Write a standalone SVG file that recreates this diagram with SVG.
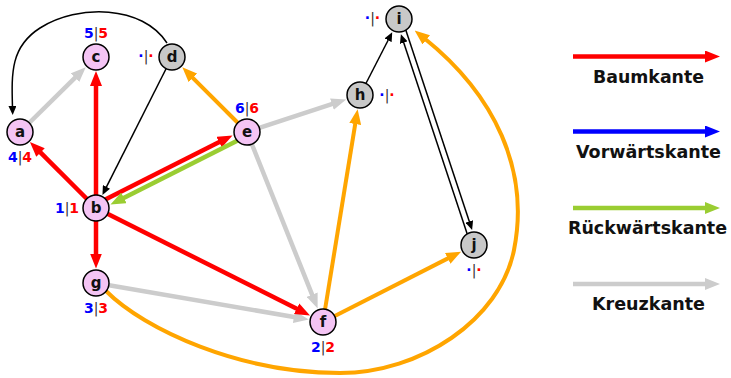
<svg xmlns="http://www.w3.org/2000/svg" width="731" height="378" viewBox="0 0 731 378">
<style>
.n{stroke:#000;stroke-width:1.5}
.p{fill:#f4c4f4}
.q{fill:#c8c8c8}
.nl{font-family:"DejaVu Sans",sans-serif;font-weight:bold;font-size:15px;text-anchor:middle;fill:#111}
.lb{font-family:"DejaVu Sans",sans-serif;font-weight:bold;font-size:14px;text-anchor:middle}
.bl{fill:#0000ff}.rd{fill:#ff0000}.br{fill:#333;font-weight:normal}
.e{fill:none}
.red{stroke:#ff0000;stroke-width:4.5}
.gr{stroke:#cccccc;stroke-width:4.5}
.or{stroke:#ffa500;stroke-width:4}
.gn{stroke:#9acd32;stroke-width:4.5}
.bk{stroke:#000;stroke-width:1.5}
.bu{stroke:#0000ff;stroke-width:4.5}
.lt{font-family:"DejaVu Sans",sans-serif;font-weight:bold;font-size:17px;text-anchor:middle;fill:#111}
</style>
<defs>
<marker id="mr" viewBox="0 0 15 12" markerWidth="15" markerHeight="12" refX="3" refY="6" orient="auto" markerUnits="userSpaceOnUse"><path d="M0,0 L15,6 L0,12 z" fill="#ff0000"/></marker>
<marker id="mg" viewBox="0 0 15 12" markerWidth="15" markerHeight="12" refX="3" refY="6" orient="auto" markerUnits="userSpaceOnUse"><path d="M0,0 L15,6 L0,12 z" fill="#cccccc"/></marker>
<marker id="mo" viewBox="0 0 15 12" markerWidth="15" markerHeight="12" refX="3" refY="6" orient="auto" markerUnits="userSpaceOnUse"><path d="M0,0 L15,6 L0,12 z" fill="#ffa500"/></marker>
<marker id="mn" viewBox="0 0 15 12" markerWidth="15" markerHeight="12" refX="3" refY="6" orient="auto" markerUnits="userSpaceOnUse"><path d="M0,0 L15,6 L0,12 z" fill="#9acd32"/></marker>
<marker id="mb" viewBox="0 0 15 12" markerWidth="15" markerHeight="12" refX="3" refY="6" orient="auto" markerUnits="userSpaceOnUse"><path d="M0,0 L15,6 L0,12 z" fill="#0000ff"/></marker>
<marker id="mk" viewBox="0 0 9 8" markerWidth="9" markerHeight="8" refX="2" refY="4" orient="auto" markerUnits="userSpaceOnUse"><path d="M0,0 L9,4 L0,8 z" fill="#000"/></marker>
</defs>
<rect width="731" height="378" fill="#fff"/>
<g id="connectors">
<path class="e or" d="M 106 291 C 145 330, 240 373, 340 373 C 420 373, 500 320, 514 250 C 530 170, 495 95, 424 38" marker-end="url(#mo)"/>
<path class="e bk" d="M 167 43 C 142.8 5, 77.9 3.8, 40 28 C 10.5 46.8, 11.5 73, 12.5 108" marker-end="url(#mk)"/>
<line class="e gr" x1="20" y1="132" x2="77.2" y2="75.6" marker-end="url(#mg)"/>
<line class="e gr" x1="247" y1="132" x2="334.8" y2="103.2" marker-end="url(#mg)"/>
<line class="e gr" x1="247" y1="132" x2="313.2" y2="297.4" marker-end="url(#mg)"/>
<line class="e gr" x1="96" y1="283" x2="296.9" y2="317.5" marker-end="url(#mg)"/>
<line class="e red" x1="96" y1="208" x2="38.4" y2="150.4" marker-end="url(#mr)"/>
<line class="e red" x1="96" y1="208" x2="96" y2="83" marker-end="url(#mr)"/>
<line class="e red" x1="94.4" y1="204.9" x2="221.8" y2="140.8" marker-end="url(#mr)"/>
<line class="e gn" x1="248.6" y1="135.1" x2="121.2" y2="199.2" marker-end="url(#mn)"/>
<line class="e red" x1="96" y1="208" x2="96" y2="256.5" marker-end="url(#mr)"/>
<line class="e red" x1="96" y1="208" x2="299.3" y2="310.1" marker-end="url(#mr)"/>
<line class="e bk" x1="172" y1="57" x2="105.6" y2="188.7" marker-end="url(#mk)"/>
<line class="e or" x1="247" y1="132" x2="190.8" y2="75.8" marker-end="url(#mo)"/>
<line class="e or" x1="323" y1="322" x2="355.7" y2="121.1" marker-end="url(#mo)"/>
<line class="e or" x1="323" y1="322" x2="450.4" y2="257.1" marker-end="url(#mo)"/>
<line class="e bk" x1="360" y1="95" x2="389.0" y2="38.5" marker-end="url(#mk)"/>
<line class="e bk" x1="401.8" y1="18.1" x2="469.9" y2="223.3" marker-end="url(#mk)"/>
<line class="e bk" x1="471.2" y1="246" x2="403.1" y2="40.8" marker-end="url(#mk)"/>
</g>
<g id="node-a"><circle class="n p" cx="20" cy="132" r="13"/><text class="nl" x="20" y="137">a</text><text class="lb" x="20" y="162"><tspan class="bl">4</tspan><tspan class="br">|</tspan><tspan class="rd">4</tspan></text></g>
<g id="node-b"><circle class="n p" cx="96" cy="208" r="13"/><text class="nl" x="96" y="213">b</text><text class="lb" x="67" y="213"><tspan class="bl">1</tspan><tspan class="br">|</tspan><tspan class="rd">1</tspan></text></g>
<g id="node-c"><circle class="n p" cx="96" cy="57" r="13"/><text class="nl" x="96" y="62">c</text><text class="lb" x="96" y="38"><tspan class="bl">5</tspan><tspan class="br">|</tspan><tspan class="rd">5</tspan></text></g>
<g id="node-d"><circle class="n q" cx="172" cy="57" r="13"/><text class="nl" x="172" y="62">d</text><text class="lb" x="146" y="61"><tspan class="bl">·</tspan><tspan class="br">|</tspan><tspan class="rd">·</tspan></text></g>
<g id="node-e"><circle class="n p" cx="247" cy="132" r="13"/><text class="nl" x="247" y="137">e</text><text class="lb" x="247" y="113"><tspan class="bl">6</tspan><tspan class="br">|</tspan><tspan class="rd">6</tspan></text></g>
<g id="node-f"><circle class="n p" cx="323" cy="322" r="13"/><text class="nl" x="323" y="327">f</text><text class="lb" x="323" y="351.5"><tspan class="bl">2</tspan><tspan class="br">|</tspan><tspan class="rd">2</tspan></text></g>
<g id="node-g"><circle class="n p" cx="96" cy="283" r="13"/><text class="nl" x="96" y="288">g</text><text class="lb" x="96" y="313"><tspan class="bl">3</tspan><tspan class="br">|</tspan><tspan class="rd">3</tspan></text></g>
<g id="node-h"><circle class="n q" cx="360" cy="95" r="13"/><text class="nl" x="360" y="100">h</text><text class="lb" x="387" y="99.5"><tspan class="bl">·</tspan><tspan class="br">|</tspan><tspan class="rd">·</tspan></text></g>
<g id="node-i"><circle class="n q" cx="399" cy="19" r="13"/><text class="nl" x="399" y="24">i</text><text class="lb" x="372.5" y="23"><tspan class="bl">·</tspan><tspan class="br">|</tspan><tspan class="rd">·</tspan></text></g>
<g id="node-j"><circle class="n q" cx="474" cy="245" r="13"/><text class="nl" x="474" y="250">j</text><text class="lb" x="474" y="275"><tspan class="bl">·</tspan><tspan class="br">|</tspan><tspan class="rd">·</tspan></text></g>
<g id="legend">
<line class="e red" x1="573" y1="56.5" x2="708" y2="56.5" marker-end="url(#mr)"/>
<text class="lt" x="648.5" y="83" textLength="111" lengthAdjust="spacingAndGlyphs">Baumkante</text>
<line class="e bu" x1="573" y1="131.5" x2="708" y2="131.5" marker-end="url(#mb)"/>
<text class="lt" x="648.5" y="158" textLength="145" lengthAdjust="spacingAndGlyphs">Vorwärtskante</text>
<line class="e gn" x1="573" y1="208" x2="708" y2="208" marker-end="url(#mn)"/>
<text class="lt" x="647.5" y="234" textLength="159" lengthAdjust="spacingAndGlyphs">Rückwärtskante</text>
<line class="e gr" x1="573" y1="284" x2="708" y2="284" marker-end="url(#mg)"/>
<text class="lt" x="648.5" y="310" textLength="113" lengthAdjust="spacingAndGlyphs">Kreuzkante</text>
</g>
</svg>
